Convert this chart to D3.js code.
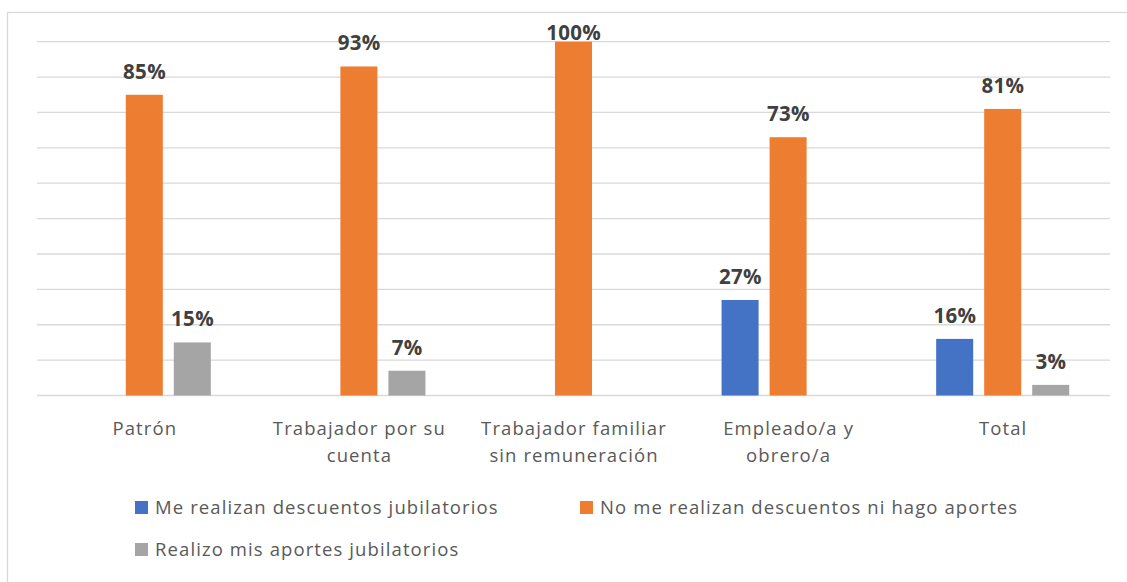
<!DOCTYPE html>
<html>
<head>
<meta charset="utf-8">
<script src="https://cdn.jsdelivr.net/npm/d3@7"></script>
<style>
  body { margin: 0; background: #fff; }
  svg { display: block; }
</style>
</head>
<body>
<div id="chart"></div>
<script>
// Data
const categories = [
  ['Patrón'],
  ['Trabajador por su', 'cuenta'],
  ['Trabajador familiar', 'sin remuneración'],
  ['Empleado/a y', 'obrero/a'],
  ['Total']
];
const seriesNames = [
  'Me realizan descuentos jubilatorios',
  'No me realizan descuentos ni hago aportes',
  'Realizo mis aportes jubilatorios'
];
const seriesColors = ['#4472C4', '#ED7D31', '#A5A5A5'];
const descuentos = [0, 0, 0, 27, 16];
const noAportes = [85, 93, 100, 73, 81];
const aportes = [15, 7, 0, 0, 3];
const yTicks = [0, 10, 20, 30, 40, 50, 60, 70, 80, 90, 100];

const W = 1127, H = 582;
const font = '"Open Sans", Lato, sans-serif';

const svg = d3.select('#chart').append('svg')
  .attr('width', W).attr('height', H);

// chart border
svg.append('rect')
  .attr('x', 7.5).attr('y', 12.5)
  .attr('width', W + 20).attr('height', H + 20)
  .attr('fill', '#fff')
  .attr('stroke', '#d9d9d9')
  .attr('stroke-width', 1.3);

const plotL = 37, plotR = 1110, plotT = 41.7, plotB = 395.5;

const x0 = d3.scaleBand()
  .domain(d3.range(categories.length))
  .range([plotL, plotR])
  .paddingInner(0.38)
  .paddingOuter(0.19);

const x1 = d3.scaleBand()
  .domain(d3.range(seriesNames.length))
  .range([0, x0.bandwidth()])
  .paddingInner(0.229);

const y = d3.scaleLinear().domain([0, 100]).range([plotB, plotT]);

// gridlines
svg.append('g')
  .selectAll('line')
  .data(yTicks)
  .join('line')
  .attr('x1', plotL).attr('x2', plotR)
  .attr('y1', d => y(d)).attr('y2', d => y(d))
  .attr('stroke', '#d9d9d9')
  .attr('stroke-width', 1.3);

// bars
const rows = categories.map((c, i) => [descuentos[i], noAportes[i], aportes[i]]);

const groups = svg.append('g')
  .selectAll('g')
  .data(rows)
  .join('g')
  .attr('transform', (d, i) => `translate(${x0(i)},0)`);

groups.selectAll('rect')
  .data(d => d.map((v, s) => ({ v, s })).filter(e => e.v > 0))
  .join('rect')
  .attr('x', d => x1(d.s))
  .attr('width', x1.bandwidth())
  .attr('y', d => y(d.v))
  .attr('height', d => y(0) - y(d.v))
  .attr('fill', d => seriesColors[d.s]);

// value labels (the 100% one is pushed down to stay inside the chart)
groups.selectAll('text')
  .data(d => d.map((v, s) => ({ v, s })).filter(e => e.v > 0))
  .join('text')
  .attr('x', d => x1(d.s) + x1.bandwidth() / 2 + 0.2)
  .attr('y', d => Math.max(y(d.v) - 16, 39.5))
  .attr('text-anchor', 'middle')
  .attr('font-family', font)
  .attr('font-weight', 'bold')
  .attr('font-size', '20.5px')
  .attr('letter-spacing', '0.3px')
  .attr('fill', '#404040')
  .text(d => d.v + '%');

// category axis labels
const catLabels = svg.append('g')
  .selectAll('text')
  .data(categories)
  .join('text')
  .attr('x', (d, i) => x0(i) + x0.bandwidth() / 2 + 0.5)
  .attr('y', 435)
  .attr('text-anchor', 'middle')
  .attr('font-family', font)
  .attr('font-size', '18.5px')
  .attr('letter-spacing', '1.1px')
  .attr('fill', '#595959');

catLabels.selectAll('tspan')
  .data(d => d)
  .join('tspan')
  .attr('x', function() { return this.parentNode.getAttribute('x'); })
  .attr('dy', (d, i) => i === 0 ? 0 : 27)
  .text(d => d);

// legend
const legendPos = [[135, 501], [580, 501], [135, 543]];
const legend = svg.append('g')
  .selectAll('g')
  .data(seriesNames)
  .join('g')
  .attr('transform', (d, i) => `translate(${legendPos[i][0]},${legendPos[i][1]})`);

legend.append('rect')
  .attr('width', 13).attr('height', 13)
  .attr('fill', (d, i) => seriesColors[i]);

legend.append('text')
  .attr('x', 20).attr('y', 13)
  .attr('font-family', font)
  .attr('font-size', '18.5px')
  .attr('letter-spacing', '1.1px')
  .attr('fill', '#595959')
  .text(d => d);
</script>
</body>
</html>
